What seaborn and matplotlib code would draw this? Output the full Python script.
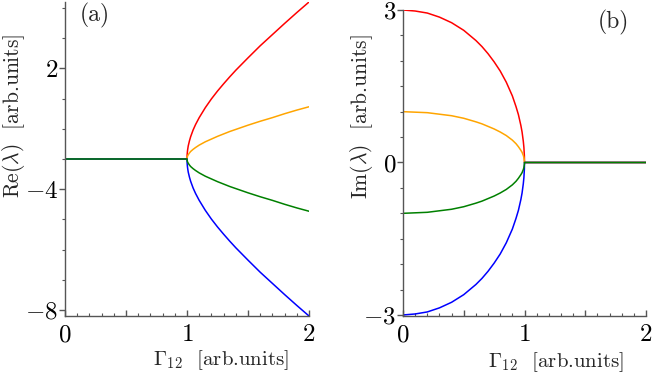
import numpy as np
import pandas as pd
import matplotlib
matplotlib.use("Agg")
import matplotlib.pyplot as plt
import seaborn as sns
from matplotlib.ticker import MultipleLocator

# --- data ---
# panel (a): real parts
gamma_a = [0.0, 1.0, 1.001, 1.003, 1.005, 1.01, 1.02, 1.03, 1.05, 1.07, 1.1, 1.15,
           1.2, 1.25, 1.3, 1.35, 1.4, 1.5, 1.6, 1.7, 1.8, 1.9, 2.0]
re_red = [-3, -3, -2.87, -2.77, -2.70, -2.57, -2.40, -2.26, -2.04, -1.86, -1.63, -1.30,
          -1.01, -0.75, -0.51, -0.28, -0.06, 0.35, 0.75, 1.12, 1.49, 1.85, 2.20]
re_orange = [-3, -3, -2.96, -2.92, -2.90, -2.86, -2.80, -2.75, -2.68, -2.62, -2.54, -2.43,
             -2.34, -2.25, -2.17, -2.09, -2.02, -1.88, -1.75, -1.63, -1.50, -1.38, -1.27]
re_green = [-3, -3, -3.04, -3.08, -3.10, -3.14, -3.20, -3.25, -3.32, -3.38, -3.46, -3.57,
            -3.66, -3.75, -3.83, -3.91, -3.98, -4.12, -4.25, -4.37, -4.50, -4.62, -4.73]
re_blue = [-3, -3, -3.13, -3.23, -3.30, -3.43, -3.60, -3.74, -3.96, -4.14, -4.37, -4.70,
           -4.99, -5.25, -5.49, -5.72, -5.94, -6.35, -6.75, -7.12, -7.49, -7.85, -8.20]

# panel (b): imaginary parts
gamma_b = [0.0, 0.1, 0.2, 0.3, 0.4, 0.5, 0.6, 0.65, 0.7, 0.75, 0.8, 0.85, 0.9, 0.93,
           0.95, 0.97, 0.98, 0.99, 0.995, 0.999, 1.0, 2.0]
im_red = [3, 2.98, 2.94, 2.86, 2.75, 2.60, 2.40, 2.28, 2.14, 1.98, 1.80, 1.58, 1.31, 1.10,
          0.94, 0.73, 0.60, 0.42, 0.30, 0.13, 0, 0]
im_orange = [1, 0.99, 0.98, 0.95, 0.92, 0.87, 0.80, 0.76, 0.71, 0.66, 0.60, 0.53, 0.44, 0.37,
             0.31, 0.24, 0.20, 0.14, 0.10, 0.04, 0, 0]
im_green = [-1, -0.99, -0.98, -0.95, -0.92, -0.87, -0.80, -0.76, -0.71, -0.66, -0.60, -0.53,
            -0.44, -0.37, -0.31, -0.24, -0.20, -0.14, -0.10, -0.04, 0, 0]
im_blue = [-3, -2.98, -2.94, -2.86, -2.75, -2.60, -2.40, -2.28, -2.14, -1.98, -1.80, -1.58,
           -1.31, -1.10, -0.94, -0.73, -0.60, -0.42, -0.30, -0.13, 0, 0]

ytick_a_pos = [0, -4, -8]
ytick_a_lab = ["2", "-4", "-8"]
ytick_b_pos = [3, 0, -3]
ytick_b_lab = ["3", "0", "-3"]

colors = {"red": "#ff0000", "orange": "#ffa500", "blue": "#0000ff", "green": "#008000"}

sns.set_style("ticks")
plt.rcParams["mathtext.fontset"] = "cm"
plt.rcParams["font.family"] = ["cmr10", "DejaVu Serif"]
plt.rcParams["axes.unicode_minus"] = False
plt.rcParams["axes.formatter.use_mathtext"] = True

fig = plt.figure(figsize=(6.53, 3.81), dpi=100)
ax_a = fig.add_axes([65 / 653, 1 - 316 / 381, 244 / 653, 314 / 381])
ax_b = fig.add_axes([403 / 653, 1 - 316 / 381, 243 / 653, 306 / 381])

df_a = pd.DataFrame({"g": gamma_a, "red": re_red, "orange": re_orange,
                     "blue": re_blue, "green": re_green})
df_b = pd.DataFrame({"g": gamma_b, "red": im_red, "orange": im_orange,
                     "blue": im_blue, "green": im_green})

for ax, df in [(ax_a, df_a), (ax_b, df_b)]:
    for name in ["red", "orange", "blue", "green"]:
        sns.lineplot(data=df, x="g", y=name, ax=ax, color=colors[name],
                     linewidth=1.1, estimator=None, sort=False)

ax_a.set_xlim(0, 2)
ax_a.set_ylim(-8.2, 2.2)
ax_b.set_xlim(0, 2)
ax_b.set_ylim(-3.02, 3.0)


def mt(s):
    return "$" + s + "$"


for ax, ypos, ylab in [(ax_a, ytick_a_pos, ytick_a_lab), (ax_b, ytick_b_pos, ytick_b_lab)]:
    sns.despine(ax=ax)
    for sp in ["left", "bottom"]:
        ax.spines[sp].set_color("#555555")
        ax.spines[sp].set_linewidth(1.0)
    ax.set_xticks([0, 0.5, 1, 1.5, 2])
    ax.set_xticklabels([mt("0"), "", mt("1"), "", mt("2")])
    ax.xaxis.set_minor_locator(MultipleLocator(0.1))
    ax.set_yticks(ypos)
    ax.set_yticklabels([mt(s) for s in ylab])
    ax.tick_params(axis="x", which="both", direction="in", colors="#555555",
                   labelcolor="black", labelsize=18, pad=6)
    ax.tick_params(axis="x", which="major", length=4, width=1)
    ax.tick_params(axis="x", which="minor", length=2.2, width=0.8)
    ax.tick_params(axis="y", which="both", direction="out", colors="#555555",
                   labelcolor="black", labelsize=18, pad=1)
    ax.tick_params(axis="y", which="major", length=4, width=1)
    ax.tick_params(axis="y", which="minor", length=2.5, width=0.8)
    ax.set_xlabel(r"$\Gamma_{12}$  [arb.units]", fontsize=15)

ax_a.yaxis.set_minor_locator(MultipleLocator(1))
ax_b.yaxis.set_minor_locator(MultipleLocator(0.5))

ax_a.set_ylabel(r"Re($\lambda$)  [arb.units]", fontsize=15.5)
ax_b.set_ylabel(r"Im($\lambda$)  [arb.units]", fontsize=15.5)
ax_a.yaxis.set_label_coords(-0.156, 0.636)
ax_b.yaxis.set_label_coords(-0.115, 0.65)
ax_a.xaxis.set_label_coords(0.64, -0.102)
ax_b.xaxis.set_label_coords(0.63, -0.111)

fig.text(95 / 653, 1 - 15 / 381, "(a)", fontsize=17, ha="center", va="center")
fig.text(613 / 653, 1 - 22 / 381, "(b)", fontsize=17, ha="center", va="center")

fig.savefig("out.png", dpi=100)
plt.close(fig)
